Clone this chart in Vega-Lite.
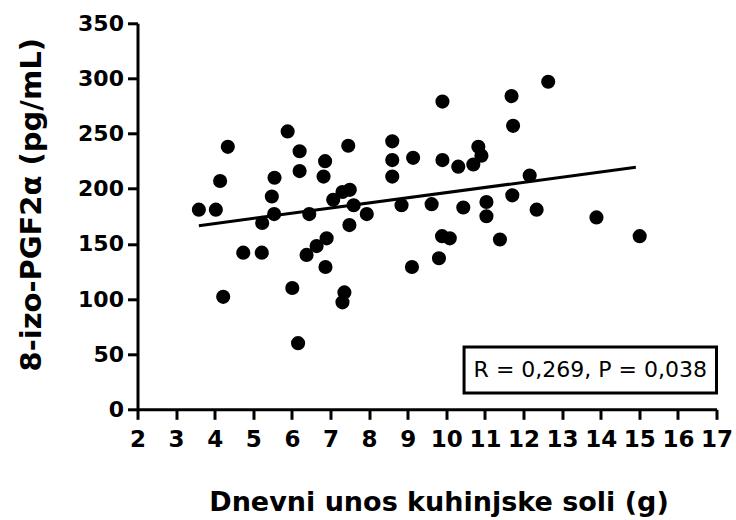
{
  "$schema": "https://vega.github.io/schema/vega-lite/v6.json",
  "autosize": {"type": "none"},
  "width": 579,
  "height": 386,
  "padding": {"left": 137.5, "top": 23.3, "right": 19.5, "bottom": 110.7},
  "background": "white",
  "config": {
    "view": {"stroke": null},
    "axis": {
      "grid": false,
      "domainColor": "black",
      "domainWidth": 3,
      "tickColor": "black",
      "tickWidth": 3,
      "tickSize": 10,
      "labelColor": "black",
      "labelFont": "DejaVu Sans",
      "labelFontWeight": "bold",
      "labelFontSize": 22,
      "titleColor": "black",
      "titleFont": "DejaVu Sans",
      "titleFontWeight": "bold"
    }
  },
  "datasets": {
    "points": [
      {"x": 3.59, "y": 181}, {"x": 4.03, "y": 181}, {"x": 4.34, "y": 238}, {"x": 4.14, "y": 207},
      {"x": 4.22, "y": 102}, {"x": 4.74, "y": 142}, {"x": 5.22, "y": 142}, {"x": 5.23, "y": 169},
      {"x": 5.54, "y": 177}, {"x": 5.48, "y": 193}, {"x": 5.55, "y": 210}, {"x": 5.89, "y": 252},
      {"x": 6.20, "y": 234}, {"x": 6.20, "y": 216}, {"x": 6.01, "y": 110}, {"x": 6.16, "y": 60},
      {"x": 6.45, "y": 177}, {"x": 6.38, "y": 140}, {"x": 6.64, "y": 148}, {"x": 6.90, "y": 155},
      {"x": 6.87, "y": 129}, {"x": 6.86, "y": 225}, {"x": 6.82, "y": 211}, {"x": 7.07, "y": 190},
      {"x": 7.31, "y": 197}, {"x": 7.50, "y": 199}, {"x": 7.60, "y": 185}, {"x": 7.46, "y": 239},
      {"x": 7.49, "y": 167}, {"x": 7.36, "y": 106}, {"x": 7.31, "y": 97}, {"x": 7.94, "y": 177},
      {"x": 8.60, "y": 243}, {"x": 8.60, "y": 226}, {"x": 8.60, "y": 211}, {"x": 9.14, "y": 228},
      {"x": 8.84, "y": 185}, {"x": 9.11, "y": 129}, {"x": 9.62, "y": 186}, {"x": 9.90, "y": 279},
      {"x": 9.90, "y": 226}, {"x": 10.31, "y": 220}, {"x": 10.70, "y": 222}, {"x": 10.83, "y": 238},
      {"x": 10.91, "y": 230}, {"x": 12.16, "y": 212}, {"x": 10.44, "y": 183}, {"x": 11.04, "y": 188},
      {"x": 11.04, "y": 175}, {"x": 11.71, "y": 194}, {"x": 12.34, "y": 181}, {"x": 13.89, "y": 174},
      {"x": 15.01, "y": 157}, {"x": 9.89, "y": 157}, {"x": 10.09, "y": 155}, {"x": 11.39, "y": 154},
      {"x": 9.81, "y": 137}, {"x": 11.69, "y": 284}, {"x": 12.64, "y": 297}, {"x": 11.73, "y": 257}
    ],
    "fit": [
      {"x": 3.59, "y": 166.5},
      {"x": 14.91, "y": 219.4}
    ],
    "box": [
      {"x": 10.46, "x2": 17, "y": 14.8, "y2": 56.5}
    ],
    "label": [
      {"x": 13.73, "y": 35.6, "label": "R = 0,269, P = 0,038"}
    ]
  },
  "encoding": {
    "x": {
      "field": "x", "type": "quantitative",
      "scale": {"domain": [2, 17], "nice": false, "zero": false},
      "axis": {
        "values": [2, 3, 4, 5, 6, 7, 8, 9, 10, 11, 12, 13, 14, 15, 16, 17],
        "labelPadding": 9,
        "labelFontSize": 23,
        "labelFlush": false,
        "labelOverlap": false,
        "title": "Dnevni unos kuhinjske soli (g)",
        "titleFontSize": 27,
        "titleX": 301,
        "titleY": 101,
        "titleAlign": "center",
        "titleBaseline": "alphabetic"
      }
    },
    "y": {
      "field": "y", "type": "quantitative",
      "scale": {"domain": [0, 350], "nice": false},
      "axis": {
        "values": [0, 50, 100, 150, 200, 250, 300, 350],
        "labelPadding": 4,
        "labelFlush": false,
        "labelOverlap": false,
        "title": "8-izo-PGF2α (pg/mL)",
        "titleFontSize": 29,
        "titleX": -106,
        "titleY": 181,
        "titleAngle": -90,
        "titleAlign": "center",
        "titleBaseline": "middle"
      }
    }
  },
  "layer": [
    {
      "data": {"name": "points"},
      "mark": {"type": "point", "filled": true, "shape": "circle", "size": 200, "color": "black", "opacity": 1}
    },
    {
      "data": {"name": "fit"},
      "mark": {"type": "line", "color": "black", "strokeWidth": 3}
    },
    {
      "data": {"name": "box"},
      "mark": {"type": "rect", "fill": "white", "stroke": "black", "strokeWidth": 3},
      "encoding": {
        "x2": {"field": "x2"},
        "y2": {"field": "y2"}
      }
    },
    {
      "data": {"name": "label"},
      "mark": {"type": "text", "font": "DejaVu Sans", "fontSize": 22, "color": "black", "align": "center", "baseline": "middle"},
      "encoding": {
        "text": {"field": "label"}
      }
    }
  ]
}
